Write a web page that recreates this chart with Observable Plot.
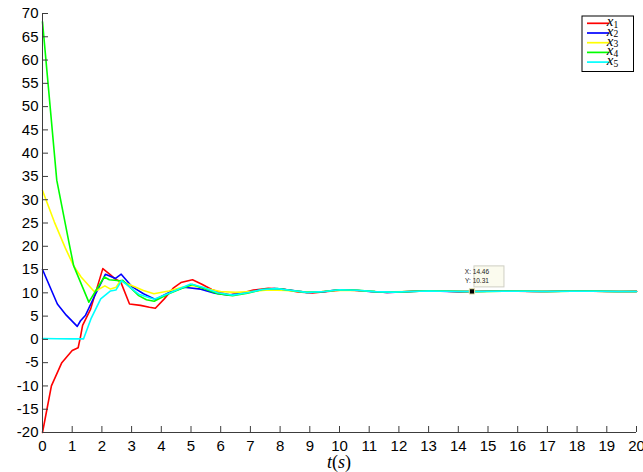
<!DOCTYPE html>
<html>
<head>
<meta charset="utf-8">
<script src="https://cdn.jsdelivr.net/npm/d3@7"></script>
<script src="https://cdn.jsdelivr.net/npm/@observablehq/plot@0.6"></script>
<style>
  body { margin: 0; background: #fff; }
  #chart { width: 643px; height: 472px; }
</style>
</head>
<body>
<div id="chart"></div>
<script>
// State trajectories x1..x5 over time t (s): [t, value]
const seriesNames = ["x1", "x2", "x3", "x4", "x5"];
const seriesColors = ["#ff0000", "#0000ff", "#ffff00", "#00ff00", "#00ffff"];

const x1 = [[0,-20],[0.3,-10],[0.65,-5],[1.0,-2.4],[1.2,-1.8],[1.28,0.6],[1.35,3.0],[1.62,6.5],[2.03,15.2],[2.3,13.8],[2.46,12.9],[2.63,12.4],[2.93,7.6],[3.3,7.3],[3.6,6.9],[3.8,6.7],[4.1,8.7],[4.4,11.0],[4.66,12.2],[5.05,12.8],[5.35,11.9],[5.7,10.7],[6.0,10.0],[6.3,9.6],[6.7,9.9],[7.1,10.6],[7.6,11.0],[8.1,10.8],[8.6,10.2],[9.1,10.0],[9.6,10.3],[10.1,10.6],[10.6,10.5],[11.1,10.3],[11.6,10.1],[12.1,10.2],[12.6,10.4],[13.1,10.4],[13.6,10.35],[14.1,10.25],[14.5,10.3],[15,10.35],[15.5,10.4],[16,10.35],[16.5,10.3],[17,10.3],[17.5,10.35],[18,10.4],[18.5,10.35],[19,10.3],[19.5,10.3],[20,10.32]];
const x2 = [[0,15],[0.5,7.6],[0.8,5.2],[1.17,2.8],[1.28,4.0],[1.45,5.2],[1.73,9.0],[2.12,14.0],[2.46,13.1],[2.65,14.0],[3.0,11.4],[3.4,9.8],[3.8,8.6],[4.25,10.0],[4.77,11.2],[5.33,10.8],[5.8,9.9],[6.3,9.5],[6.8,10.0],[7.3,10.6],[7.8,10.9],[8.3,10.6],[8.9,10.1],[9.4,10.2],[9.9,10.6],[10.4,10.6],[11.0,10.3],[11.6,10.1],[12.2,10.2],[12.8,10.4],[13.4,10.35],[14,10.25],[14.5,10.3],[15,10.35],[15.6,10.38],[16.2,10.33],[16.8,10.28],[17.5,10.35],[18.2,10.4],[18.8,10.33],[19.4,10.28],[20,10.3]];
const x3 = [[0,32],[0.4,25.2],[0.77,19.6],[1.05,15.8],[1.3,13.4],[1.74,10.3],[1.85,10.6],[2.1,11.5],[2.29,10.8],[2.48,11.2],[2.62,12.6],[3.02,11.5],[3.4,10.5],[3.75,9.8],[4.25,10.4],[4.7,11.2],[5.05,11.6],[5.5,10.9],[6,10.3],[6.5,10.1],[7,10.3],[7.6,10.6],[8.2,10.5],[8.8,10.2],[9.4,10.3],[10,10.55],[10.6,10.5],[11.2,10.3],[11.8,10.2],[12.4,10.3],[13,10.4],[13.6,10.35],[14.2,10.28],[14.8,10.3],[15.5,10.35],[16.2,10.33],[17,10.3],[17.8,10.35],[18.6,10.35],[19.3,10.3],[20,10.3]];
const x4 = [[0,68.2],[0.48,34.2],[0.9,20.5],[1.05,15.8],[1.56,8.0],[1.8,10.5],[2.08,13.4],[2.25,12.8],[2.6,12.6],[2.7,12.7],[3.24,9.4],[3.5,8.5],[3.76,8.2],[4.25,9.8],[4.7,11.0],[5.05,11.8],[5.4,11.0],[5.9,9.8],[6.4,9.4],[6.9,9.9],[7.4,10.7],[7.9,10.9],[8.4,10.5],[8.9,10.1],[9.5,10.3],[10,10.65],[10.6,10.55],[11.2,10.25],[11.8,10.15],[12.4,10.3],[13,10.4],[13.6,10.35],[14.2,10.28],[14.8,10.3],[15.5,10.35],[16.2,10.33],[17,10.3],[17.8,10.35],[18.6,10.33],[19.3,10.3],[20,10.3]];
const x5 = [[0,0.2],[0.5,0.15],[1.0,0.1],[1.38,0.1],[1.63,4.4],[1.96,8.7],[2.29,10.4],[2.47,10.6],[2.66,12.6],[3.24,9.7],[3.76,8.6],[4.3,10.0],[4.99,11.9],[5.4,11.2],[5.9,10.0],[6.4,9.5],[6.9,10.0],[7.4,10.7],[7.9,10.9],[8.4,10.5],[8.9,10.1],[9.5,10.3],[10,10.65],[10.6,10.55],[11.2,10.25],[11.8,10.15],[12.4,10.3],[13,10.4],[13.6,10.35],[14.2,10.28],[14.8,10.3],[15.5,10.35],[16.2,10.33],[17,10.3],[17.8,10.35],[18.6,10.33],[19.3,10.3],[20,10.3]];

const xTicks = d3.range(0, 21, 1);
const yTicks = d3.range(-20, 71, 5);
const tipPoint = { t: 14.46, v: 10.31 };

const rows = [];
[x1, x2, x3, x4, x5].forEach((s, i) =>
  s.forEach(([t, v]) => rows.push({ series: seriesNames[i], t, v }))
);

const axisColor = "#3c3c3c";
const sansFont = "'Liberation Sans', Arial, Helvetica, sans-serif";
const serifFont = "'Liberation Serif', 'DejaVu Serif', serif";

const plot = Plot.plot({
  width: 643,
  height: 472,
  marginLeft: 42,
  marginRight: 7,
  marginTop: 13,
  marginBottom: 40,
  style: { fontFamily: sansFont, fontSize: "15px", color: "#000", background: "#fff" },
  x: { domain: [0, 20] },
  y: { domain: [-20, 70] },
  color: { domain: seriesNames, range: seriesColors },
  marks: [
    Plot.line(rows, { x: "t", y: "v", z: "series", stroke: "series", strokeWidth: 1.6 }),
    Plot.ruleX([0], { stroke: axisColor }),
    Plot.ruleY([-20], { stroke: axisColor }),
    Plot.axisY(yTicks, { tickSize: -6, tickPadding: 10, stroke: axisColor, fill: "#000", fontSize: 15, tickFormat: d => String(d), label: null }),
    Plot.axisX(xTicks, { tickSize: -6, tickPadding: 14, stroke: axisColor, fill: "#000", fontSize: 15, tickFormat: d => String(d), label: null }),
    Plot.dot([tipPoint], { x: "t", y: "v", symbol: "square", r: 3, fill: "#000", stroke: "#e8e4b0", strokeWidth: 1 })
  ]
});

document.getElementById("chart").appendChild(plot);

const svg = d3.select(plot);
const sx = plot.scale("x"), sy = plot.scale("y");

// x-axis title t(s)
const xl = svg.append("text")
  .attr("x", sx.apply(10))
  .attr("y", 468)
  .attr("text-anchor", "middle")
  .attr("font-family", serifFont)
  .attr("font-size", 18)
  .attr("fill", "#000");
xl.append("tspan").attr("font-style", "italic").text("t");
xl.append("tspan").text("(");
xl.append("tspan").attr("font-style", "italic").text("s");
xl.append("tspan").text(")");

// data tip box
const px = sx.apply(tipPoint.t), py = sy.apply(tipPoint.v);
const tip = svg.append("g").attr("transform", `translate(${px + 2.5},${py - 25})`);
tip.append("rect").attr("width", 30).attr("height", 21)
  .attr("fill", "#fbfbee").attr("stroke", "#cfcfc4").attr("stroke-width", 1);
tip.append("text").attr("x", 3).attr("y", 8.5)
  .attr("font-family", sansFont).attr("font-size", 6.5).attr("fill", "#222")
  .text(`X: ${tipPoint.t}`);
tip.append("text").attr("x", 3).attr("y", 17)
  .attr("font-family", sansFont).attr("font-size", 6.5).attr("fill", "#222")
  .text(`Y: ${tipPoint.v}`);

// legend
const lg = svg.append("g").attr("transform", "translate(582,16)");
lg.append("rect").attr("width", 51.5).attr("height", 55.5)
  .attr("fill", "#fff").attr("stroke", "#000").attr("stroke-width", 1);
seriesNames.forEach((name, i) => {
  const yy = 7.3 + i * 9.7;
  lg.append("line").attr("x1", 5).attr("x2", 27).attr("y1", yy).attr("y2", yy)
    .attr("stroke", seriesColors[i]).attr("stroke-width", 1.7);
  const t = lg.append("text").attr("x", 30.5).attr("y", yy + 2.8)
    .attr("font-family", serifFont).attr("fill", "#000");
  t.append("tspan").attr("font-style", "italic").attr("font-size", 15).text("x");
  t.append("tspan").attr("font-size", 9.5).attr("dy", 1.6).text(name.slice(1));
});
</script>
</body>
</html>
